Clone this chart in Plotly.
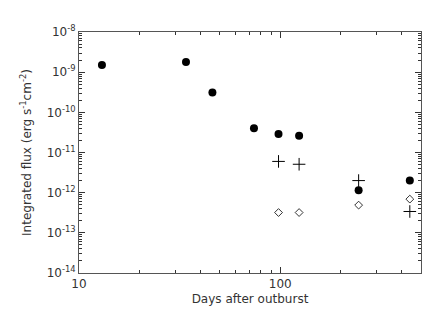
import plotly.graph_objects as go

days = [13, 34, 46, 74, 98, 124, 245, 440]
flux_total = [1.5e-9, 1.8e-9, 3.1e-10, 4.0e-11, 2.9e-11, 2.6e-11, 1.15e-12, 2.0e-12]
days_b = [98, 124, 245, 440]
flux_plus = [6.0e-12, 5.1e-12, 2.0e-12, 3.4e-13]
flux_diamond = [3.2e-13, 3.2e-13, 4.9e-13, 6.9e-13]

y_tickvals = [1e-14, 1e-13, 1e-12, 1e-11, 1e-10, 1e-9, 1e-8]
y_ticktext = ["10<sup>-14</sup>", "10<sup>-13</sup>", "10<sup>-12</sup>", "10<sup>-11</sup>",
              "10<sup>-10</sup>", "10<sup>-9</sup>", "10<sup>-8</sup>"]
x_tickvals = [10, 100]
x_ticktext = ["10", "100"]

font = dict(family="DejaVu Sans", size=12, color="#333333")

fig = go.Figure()
fig.add_trace(go.Scatter(x=days, y=flux_total, mode="markers",
                         marker=dict(symbol="circle", size=8, color="black")))
fig.add_trace(go.Scatter(x=days_b, y=flux_plus, mode="markers",
                         marker=dict(symbol="cross-thin", size=9,
                                     line=dict(color="black", width=1))))
fig.add_trace(go.Scatter(x=days_b, y=flux_diamond, mode="markers",
                         marker=dict(symbol="diamond-open", size=6, color="black",
                                     line=dict(width=0.8))))

axis_common = dict(showgrid=False, zeroline=False, showline=True, linecolor="#555555",
                   linewidth=1, mirror="ticks", ticks="inside", tickcolor="#333333",
                   ticklen=6, tickfont=font)

fig.update_xaxes(type="log", range=[1, 2.699], tickvals=x_tickvals, ticktext=x_ticktext,
                 minor=dict(ticks="inside", ticklen=3, dtick="D1", tickcolor="#333333"),
                 title=dict(text="Days after outburst", font=font, standoff=4),
                 **axis_common)
fig.update_yaxes(type="log", range=[-14, -8], tickvals=y_tickvals, ticktext=y_ticktext,
                 minor=dict(ticks="inside", ticklen=3, dtick="D1", tickcolor="#333333"),
                 title=dict(text="Integrated flux (erg s<sup>-1</sup>cm<sup>-2</sup>)",
                            font=font, standoff=12),
                 **axis_common)

fig.update_layout(width=436, height=312, showlegend=False,
                  margin=dict(l=71, r=23, t=24, b=47),
                  plot_bgcolor="white", paper_bgcolor="white")
fig.write_html("out.html")
